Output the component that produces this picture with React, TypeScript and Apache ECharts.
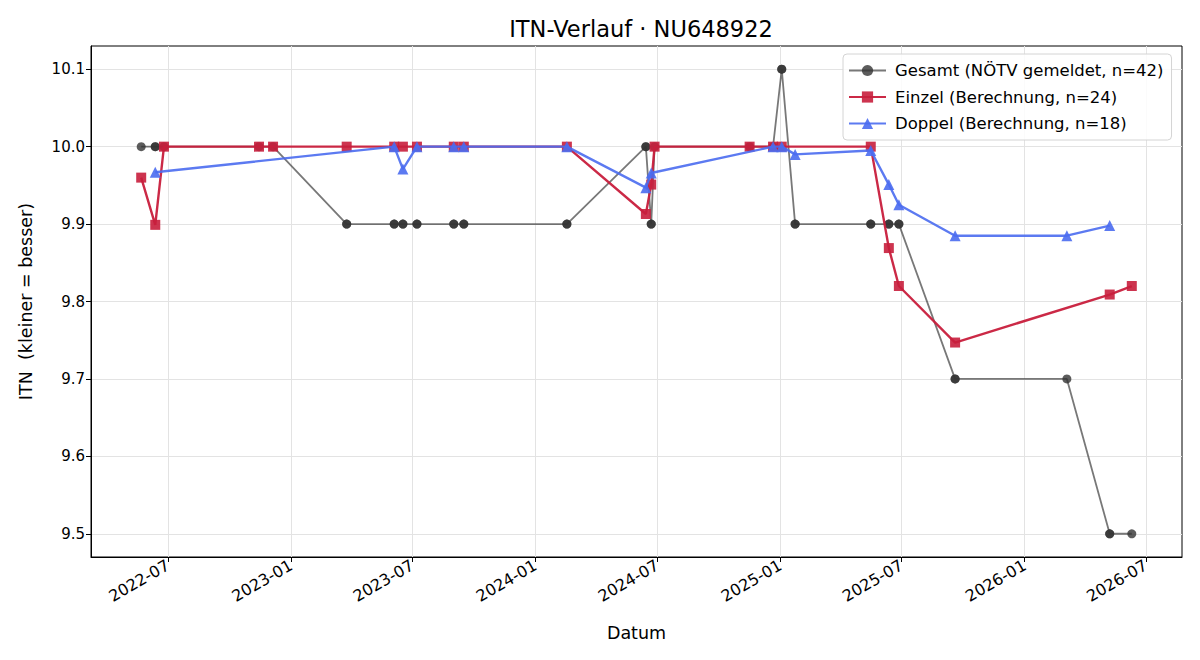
import React, { useEffect, useRef } from "react";
import * as echarts from "echarts";

const FONT = "DejaVu Sans";

const gesamtDates = [
  "2022-05-22", "2022-06-12", "2022-06-12", "2022-06-25", "2022-11-14", "2022-12-05",
  "2023-03-25", "2023-03-25", "2023-06-04", "2023-06-04", "2023-06-17", "2023-06-17",
  "2023-07-08", "2023-07-08", "2023-09-01", "2023-09-01", "2023-09-16", "2023-09-16",
  "2024-02-17", "2024-02-17", "2024-06-14", "2024-06-14", "2024-06-22", "2024-06-22",
  "2024-06-27", "2024-11-16", "2024-12-21", "2025-01-03", "2025-01-03", "2025-01-23",
  "2025-01-23", "2025-05-16", "2025-05-16", "2025-06-12", "2025-06-12", "2025-06-27",
  "2025-06-27", "2025-09-19", "2025-09-19", "2026-03-05", "2026-05-08", "2026-05-08",
  "2026-06-10",
];
const gesamtValues = [
  10.0, 10.0, 10.0, 10.0, 10.0, 10.0,
  9.9, 9.9, 9.9, 9.9, 9.9, 9.9,
  9.9, 9.9, 9.9, 9.9, 9.9, 9.9,
  9.9, 9.9, 10.0, 10.0, 9.9, 9.9,
  10.0, 10.0, 10.0, 10.1, 10.1, 9.9,
  9.9, 9.9, 9.9, 9.9, 9.9, 9.9,
  9.9, 9.7, 9.7, 9.7, 9.5, 9.5,
  9.5,
];

const einzelDates = [
  "2022-05-22", "2022-06-12", "2022-06-25", "2022-11-14", "2022-12-05", "2023-03-25",
  "2023-06-04", "2023-06-17", "2023-07-08", "2023-09-01", "2023-09-16", "2024-02-17",
  "2024-06-14", "2024-06-22", "2024-06-27", "2024-11-16", "2024-12-21", "2025-01-03",
  "2025-05-16", "2025-06-12", "2025-06-27", "2025-09-19", "2026-05-08", "2026-06-10",
];
const einzelValues = [
  9.96, 9.899, 10.0, 10.0, 10.0, 10.0,
  10.0, 10.0, 10.0, 10.0, 10.0, 10.0,
  9.913, 9.951, 10.0, 10.0, 10.0, 10.0,
  10.0, 9.869, 9.82, 9.747, 9.809, 9.82,
];

const doppelDates = [
  "2022-06-12", "2023-06-04", "2023-06-17", "2023-07-08", "2023-09-01", "2023-09-16",
  "2024-02-17", "2024-06-14", "2024-06-22", "2024-12-21", "2025-01-03", "2025-01-23",
  "2025-05-16", "2025-06-12", "2025-06-27", "2025-09-19", "2026-03-05", "2026-05-08",
];
const doppelValues = [
  9.967, 10.0, 9.971, 10.0, 10.0, 10.0,
  10.0, 9.947, 9.966, 10.0, 10.0, 9.99,
  9.995, 9.951, 9.925, 9.885, 9.885, 9.898,
];

const xTickLabels = [
  "2022-07", "2023-01", "2023-07", "2024-01", "2024-07",
  "2025-01", "2025-07", "2026-01", "2026-07",
];
const yTickValues = [9.5, 9.6, 9.7, 9.8, 9.9, 10.0, 10.1];

const seriesNames = [
  "Gesamt (NÖTV gemeldet, n=42)",
  "Einzel (Berechnung, n=24)",
  "Doppel (Berechnung, n=18)",
];

function ts(s: string): number {
  const [y, m, d] = s.split("-").map(Number);
  return Date.UTC(y, m - 1, d || 1);
}

function pairs(dates: string[], values: number[]) {
  return dates.map((d, i) => [ts(d), values[i]]);
}

export default function App() {
  const ref = useRef<HTMLDivElement>(null);

  useEffect(() => {
    document.body.style.margin = "0";
    const chart = echarts.init(ref.current!, null, { renderer: "svg" });
    const xTicks = xTickLabels.map((l) => ts(l + "-01"));
    chart.setOption({
      animation: false,
      backgroundColor: "#ffffff",
      textStyle: { fontFamily: FONT },
      title: {
        text: "ITN-Verlauf · NU648922",
        left: 636,
        textAlign: "center",
        top: 12,
        textStyle: { fontFamily: FONT, fontSize: 22.5, fontWeight: "normal", color: "#000" },
      },
      legend: {
        orient: "vertical",
        left: 843,
        top: 54,
        padding: [8, 8, 8, 5],
        itemGap: 9.5,
        itemWidth: 37,
        itemHeight: 14,
        backgroundColor: "rgba(255,255,255,0.85)",
        borderColor: "#d4d4d4",
        borderWidth: 1,
        borderRadius: 4,
        textStyle: { fontFamily: FONT, fontSize: 16.5, color: "#000", padding: [0, 0, 0, 4] },
        data: seriesNames,
      },
      grid: {
        left: 91,
        right: 18,
        top: 46,
        bottom: 103,
        show: true,
        borderColor: "#000",
        borderWidth: 1,
        backgroundColor: "transparent",
      },
      xAxis: {
        type: "value",
        min: ts("2022-03-08"),
        max: ts("2026-08-24"),
        name: "Datum",
        nameLocation: "middle",
        nameGap: 67,
        nameTextStyle: { fontFamily: FONT, fontSize: 17.5, color: "#000" },
        axisLine: { show: true, lineStyle: { color: "#000", width: 1 } },
        axisTick: {
          show: true,
          inside: false,
          length: 5,
          lineStyle: { color: "#000" },
          customValues: xTicks,
        },
        axisLabel: {
          customValues: xTicks,
          rotate: 30,
          margin: 7,
          fontFamily: FONT,
          fontSize: 16,
          color: "#000",
          formatter: (v: number) => {
            const d = new Date(v);
            const m = d.getUTCMonth() + 1;
            return d.getUTCFullYear() + "-" + (m < 10 ? "0" + m : "" + m);
          },
        },
        splitLine: { show: true, lineStyle: { color: "#e3e3e3", width: 1 } },
      },
      yAxis: {
        type: "value",
        min: 9.47,
        max: 10.13,
        name: "ITN  (kleiner = besser)",
        nameLocation: "middle",
        nameGap: 56,
        nameRotate: 90,
        nameTextStyle: { fontFamily: FONT, fontSize: 17.5, color: "#000" },
        axisLine: { show: true, lineStyle: { color: "#000", width: 1 } },
        axisTick: {
          show: true,
          inside: false,
          length: 5,
          lineStyle: { color: "#000" },
          customValues: yTickValues,
        },
        axisLabel: {
          customValues: yTickValues,
          margin: 6,
          fontFamily: FONT,
          fontSize: 15,
          color: "#000",
          formatter: (v: number) => v.toFixed(1),
        },
        splitLine: { show: true, lineStyle: { color: "#e3e3e3", width: 1 } },
      },
      series: [
        {
          name: seriesNames[0],
          type: "line",
          data: pairs(gesamtDates, gesamtValues),
          symbol: "circle",
          symbolSize: 9,
          showAllSymbol: true,
          z: 2,
          lineStyle: { color: "#444", width: 1.8, opacity: 0.72 },
          itemStyle: { color: "#333", opacity: 0.8 },
        },
        {
          name: seriesNames[1],
          type: "line",
          data: pairs(einzelDates, einzelValues),
          symbol: "rect",
          symbolSize: 10,
          showAllSymbol: true,
          z: 3,
          lineStyle: { color: "#c81e3c", width: 2.4, opacity: 0.95 },
          itemStyle: { color: "#c81e3c", opacity: 0.9 },
        },
        {
          name: seriesNames[2],
          type: "line",
          data: pairs(doppelDates, doppelValues),
          symbol: "triangle",
          symbolSize: 11,
          showAllSymbol: true,
          z: 4,
          lineStyle: { color: "#4a6cf0", width: 2.4, opacity: 0.9 },
          itemStyle: { color: "#4a6cf0", opacity: 0.9 },
        },
      ],
    });
    return () => chart.dispose();
  }, []);

  return (
    <div
      ref={ref}
      style={{ position: "absolute", left: 0, top: 0, width: 1200, height: 660 }}
    />
  );
}
